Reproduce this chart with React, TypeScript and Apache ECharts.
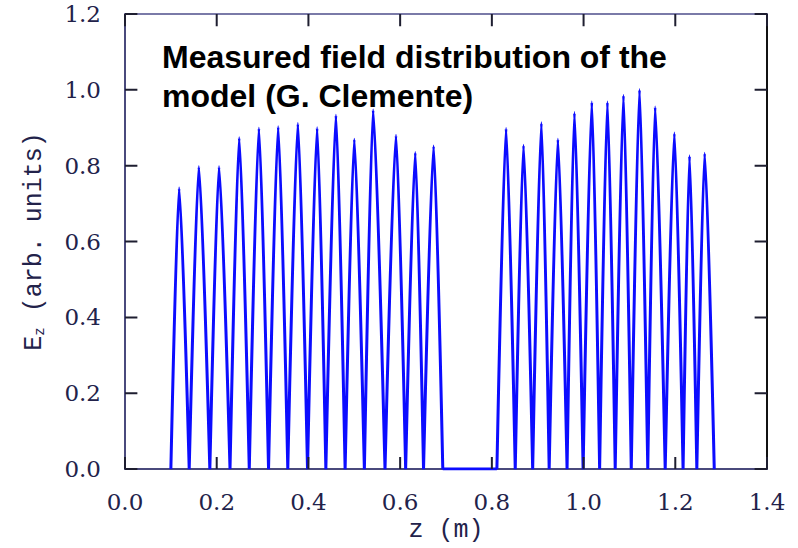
import React, { useEffect, useRef } from "react";
import * as echarts from "echarts";

// Group 1 (first tank): hump boundaries (zeros), peak positions and peak heights
const zeros1 = [0.100, 0.140, 0.185, 0.229, 0.271, 0.313, 0.355, 0.398, 0.438, 0.480, 0.522, 0.567, 0.612, 0.651, 0.693];
const peakZ1 = [0.118, 0.161, 0.205, 0.249, 0.292, 0.334, 0.377, 0.419, 0.460, 0.500, 0.541, 0.591, 0.633, 0.673];
const peakE1 = [0.741, 0.797, 0.797, 0.874, 0.899, 0.903, 0.911, 0.900, 0.933, 0.870, 0.947, 0.880, 0.835, 0.852];

// Gap between tanks (field zero)
const gapZ = [0.693, 0.811];

// Group 2 (second tank)
const zeros2 = [0.811, 0.851, 0.889, 0.925, 0.964, 0.999, 1.035, 1.069, 1.104, 1.140, 1.178, 1.217, 1.247, 1.285];
const peakZ2 = [0.831, 0.869, 0.908, 0.944, 0.980, 1.018, 1.052, 1.087, 1.122, 1.156, 1.198, 1.231, 1.264];
const peakE2 = [0.898, 0.854, 0.913, 0.870, 0.940, 0.968, 0.968, 0.986, 1.001, 0.955, 0.886, 0.826, 0.833];

const xTicks = [0, 0.2, 0.4, 0.6, 0.8, 1.0, 1.2, 1.4];
const yTicks = [0, 0.2, 0.4, 0.6, 0.8, 1.0, 1.2];

const titleLines = ["Measured field distribution of the", "model (G. Clemente)"];

function buildData() {
  const data: any[] = [];
  const addGroup = (zeros: number[], pz: number[], pe: number[]) => {
    for (let i = 0; i < pz.length; i++) {
      data.push([zeros[i], 0]);
      data.push([pz[i], pe[i]]);
      data.push([zeros[i + 1], 0]);
      data.push([zeros[i + 1], "-"]);
    }
  };
  addGroup(zeros1, peakZ1, peakE1);
  data.push([gapZ[0], 0]);
  data.push([gapZ[1], 0]);
  data.push([gapZ[1], "-"]);
  addGroup(zeros2, peakZ2, peakE2);
  return data;
}

// tick-mark length expressed in axis units (about 12 px on this plot)
const TICK_DY = 0.032;
const TICK_DX = 0.027;

function buildTickData() {
  const xmin = xTicks[0];
  const xmax = xTicks[xTicks.length - 1];
  const ymin = yTicks[0];
  const ymax = yTicks[yTicks.length - 1];
  const d: any[] = [];
  xTicks.forEach((v) => {
    d.push([v, ymin], [v, ymin + TICK_DY], [v, "-"]);
    d.push([v, ymax], [v, ymax - TICK_DY], [v, "-"]);
  });
  yTicks.forEach((v) => {
    d.push([xmin, v], [xmin + TICK_DX, v], ["-", v]);
    d.push([xmax, v], [xmax - TICK_DX, v], ["-", v]);
  });
  return d;
}

const TICK_FONT = "'DejaVu Serif', serif";
const NAME_FONT = "'Liberation Mono', 'Courier New', monospace";
const AXIS_COLOR = "#4a4a7c";
const LABEL_COLOR = "#22224a";

export default function App() {
  const ref = useRef<HTMLDivElement>(null);
  useEffect(() => {
    if (!ref.current) return;
    const chart = echarts.init(ref.current, undefined, { renderer: "svg" });
    const xmin = xTicks[0];
    const xmax = xTicks[xTicks.length - 1];
    const ymin = yTicks[0];
    const ymax = yTicks[yTicks.length - 1];
    const noTick = { show: false };
    chart.setOption({
      animation: false,
      backgroundColor: "#ffffff",
      grid: { left: 125, right: 31, top: 14, bottom: 76, containLabel: false },
      xAxis: [
        {
          type: "value",
          min: xmin,
          max: xmax,
          interval: 0.2,
          position: "bottom",
          axisLine: { show: true, onZero: false, lineStyle: { color: AXIS_COLOR, width: 2 } },
          axisTick: noTick,
          splitLine: { show: false },
          axisLabel: {
            formatter: (v: number) => v.toFixed(1),
            fontFamily: TICK_FONT,
            fontSize: 23,
            color: LABEL_COLOR,
            margin: 21,
          },
          name: "z (m)",
          nameLocation: "middle",
          nameGap: 30,
          nameTextStyle: { fontFamily: NAME_FONT, fontSize: 25, color: LABEL_COLOR },
        },
        {
          type: "value",
          min: xmin,
          max: xmax,
          interval: 0.2,
          position: "top",
          axisLine: { show: true, onZero: false, lineStyle: { color: "#7a7aa8", width: 2 } },
          axisTick: noTick,
          splitLine: { show: false },
          axisLabel: { show: false },
        },
      ],
      yAxis: [
        {
          type: "value",
          min: ymin,
          max: ymax,
          interval: 0.2,
          position: "left",
          axisLine: { show: true, onZero: false, lineStyle: { color: AXIS_COLOR, width: 2 } },
          axisTick: noTick,
          splitLine: { show: false },
          axisLabel: {
            formatter: (v: number) => v.toFixed(1),
            fontFamily: TICK_FONT,
            fontSize: 23,
            color: LABEL_COLOR,
            margin: 24,
          },
          name: "{e|E}{s|z} (arb. units)",
          nameLocation: "middle",
          nameGap: 78,
          nameRotate: 90,
          nameTextStyle: {
            fontFamily: NAME_FONT,
            fontSize: 25,
            color: LABEL_COLOR,
            rich: {
              e: { fontFamily: NAME_FONT, fontSize: 25, color: LABEL_COLOR },
              s: { fontFamily: NAME_FONT, fontSize: 14, color: LABEL_COLOR, verticalAlign: "bottom", padding: [10, 0, 0, 0] },
            },
          },
        },
        {
          type: "value",
          min: ymin,
          max: ymax,
          interval: 0.2,
          position: "right",
          axisLine: { show: true, onZero: false, lineStyle: { color: "#111", width: 2 } },
          axisTick: noTick,
          splitLine: { show: false },
          axisLabel: { show: false },
        },
      ],
      series: [
        {
          name: "Ez",
          type: "line",
          xAxisIndex: 0,
          yAxisIndex: 0,
          data: buildData(),
          showSymbol: false,
          connectNulls: false,
          smooth: 0.25,
          smoothMonotone: "x",
          lineStyle: { color: "#0c0cff", width: 3 },
          z: 3,
        },
        {
          name: "ticks",
          type: "line",
          xAxisIndex: 0,
          yAxisIndex: 0,
          data: buildTickData(),
          showSymbol: false,
          connectNulls: false,
          smooth: false,
          clip: false,
          silent: true,
          lineStyle: { color: "#1e1e30", width: 2 },
          z: 4,
        },
      ],
      graphic: [
        {
          type: "text",
          left: 162,
          top: 37,
          z: 10,
          style: {
            text: titleLines.join("\n"),
            font: "bold 32px 'Liberation Sans', Arial, sans-serif",
            lineHeight: 39,
            fill: "#000000",
          },
        },
      ],
    });
    return () => chart.dispose();
  }, []);
  return <div ref={ref} style={{ width: 798, height: 548, position: "absolute", left: 0, top: 0 }} />;
}
